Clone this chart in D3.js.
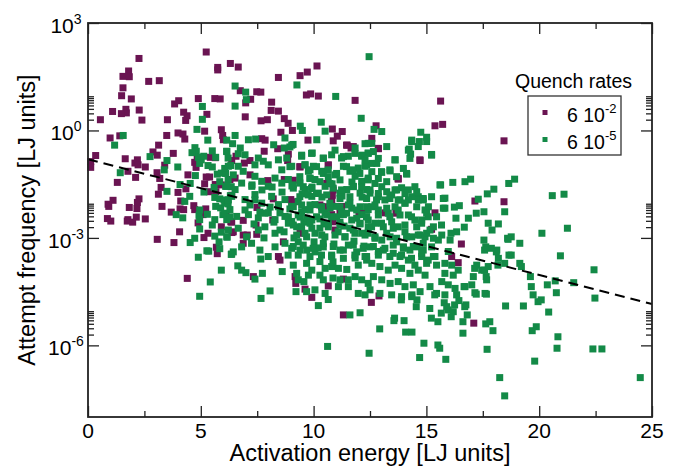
<!DOCTYPE html>
<html>
<head>
<meta charset="utf-8">
<script src="https://cdn.jsdelivr.net/npm/d3@7"></script>
<style>
body { margin: 0; background: #fff; }
svg { font-family: "Liberation Sans", Arial, Helvetica, sans-serif; }
</style>
</head>
<body>
<svg id="chart" width="678" height="466"></svg>
<script>
// each point: [activation energy, log10 of attempt frequency]
// quench rate 6 10^-2
const fastQuench = [
    [5.24,2.19],[2.26,2.01],[1.80,1.66],[1.55,1.51],[1.83,1.50],[2.69,1.37],[3.16,1.39],[5.75,1.76],[5.75,1.69],[6.31,1.87],
    [1.55,1.19],[1.49,0.97],[1.92,0.88],[4.89,0.89],[5.62,0.89],[5.86,0.88],[4.02,0.83],[3.84,0.74],[1.09,0.53],[1.68,0.59],
    [1.70,0.49],[1.48,0.47],[2.27,0.57],[5.27,0.45],[4.24,0.51],[4.39,0.41],[4.33,0.28],[0.55,0.30],[2.39,0.29],[3.52,0.30],
    [5.17,-0.02],[5.91,0.02],[3.99,-0.07],[4.21,-0.10],[4.29,-0.24],[3.49,-0.14],[0.98,-0.21],[1.41,-0.15],[5.97,-0.14],[6.00,-0.26],
    [3.13,-0.41],[2.88,-0.60],[3.07,-0.69],[3.78,-0.64],[0.34,-0.70],[1.65,-0.79],[2.19,-0.82],[2.08,-0.91],[2.22,-0.96],[0.12,-0.87],
    [0.12,-1.03],[4.84,-0.78],[4.73,-0.89],[4.79,-1.03],[5.64,-0.76],[5.42,-0.75],[2.54,-1.02],[1.77,-1.14],[2.11,-1.31],[3.06,-1.18],
    [4.43,-1.24],[5.24,-1.30],[5.39,-1.30],[1.30,-1.45],[3.24,-1.59],[4.34,-1.63],[3.99,-1.73],[3.12,-1.78],[1.11,-1.95],[0.89,-2.06],
    [0.92,-2.12],[2.26,-1.91],[2.19,-2.01],[1.83,-2.15],[2.17,-2.18],[3.28,-2.12],[3.69,-2.28],[4.08,-2.19],[4.24,-2.21],[4.69,-2.10],
    [4.73,-2.21],[5.22,-2.19],[5.10,-2.35],[0.86,-2.46],[1.77,-2.49],[2.14,-2.42],[2.54,-2.47],[6.12,-2.32],[1.01,-2.53],[1.74,-2.53],
    [1.98,-2.56],[3.40,-0.97],[3.18,-1.34],[5.17,-1.49],[5.64,-1.51],[5.67,-1.71],[5.38,-1.71],[5.91,-1.52],[4.11,-1.97],[4.88,-2.58],
    [5.14,-2.99],[5.32,-2.87],[5.69,-3.26],[5.73,-3.44],[5.91,-2.69],[6.38,-2.85],[6.33,-2.55],[4.06,-2.83],[3.07,-3.04],[3.81,-3.13],
    [4.40,-4.13],[6.66,1.77],[8.44,1.48],[9.40,1.53],[9.72,1.63],[10.15,1.80],[6.75,1.11],[7.48,1.08],[7.66,1.07],[7.21,0.87],
    [6.99,0.77],[9.68,0.99],[9.87,1.02],[10.21,0.96],[11.84,0.84],[8.14,0.79],[8.12,0.56],[8.44,0.54],[6.97,0.38],[7.67,0.27],
    [7.95,0.30],[8.70,0.33],[8.87,0.20],[8.55,-0.05],[9.06,0.00],[10.83,0.04],[11.27,-0.03],[10.87,-0.29],[11.05,-0.16],[9.75,-0.27],
    [7.70,-0.23],[7.85,-0.27],[8.41,-0.51],[7.81,-0.58],[11.49,-0.41],[11.66,-0.49],[6.56,-0.72],[8.88,-0.66],[8.85,-0.84],[7.18,-0.84],
    [6.93,-0.91],[6.37,-0.84],[9.40,-1.02],[10.65,-0.97],[6.52,-1.33],[6.29,-1.37],[7.18,-1.24],[7.97,-1.40],[8.70,-1.37],[9.10,-1.39],
    [10.83,-1.81],[8.99,-1.93],[8.21,-1.91],[6.37,-1.81],[10.36,-2.12],[10.80,-2.35],[11.24,-2.12],[7.49,-2.15],[6.88,-2.51],[12.01,-2.28],
    [6.37,-2.56],[6.44,-2.83],[6.88,-2.92],[7.06,-2.92],[7.45,-2.64],[7.48,-2.90],[8.19,-2.50],[8.66,-3.11],[8.44,-3.52],[8.51,-3.62],
    [6.88,-3.15],[7.33,-4.08],[9.18,-4.08],[9.21,-4.27],[9.62,-4.43],[9.92,-4.66],[10.65,-4.34],[11.32,-4.15],[11.32,-5.15],[10.80,-1.94],
    [10.65,-2.13],[10.95,-2.78],[11.17,-2.31],[12.13,-2.31],[9.03,-2.08],[9.40,-2.87],[15.63,0.82],[12.77,0.13],[15.38,0.13],[15.72,0.17],
    [12.58,-0.22],[12.87,-0.51],[14.72,-0.84],[18.44,-0.29],[13.75,-1.36],[17.15,-1.97],[18.44,-1.99],[13.65,-2.31],[15.38,-2.30],[15.23,-2.76],
    [16.55,-3.17],[16.12,-3.52],[16.41,-3.69],[12.90,-4.62],[13.17,-2.30],[12.56,-4.80],[17.10,-5.38],
    [9.39,-1.01],[10.65,-0.96],[11.46,-0.41],[11.76,-0.45],[12.87,-0.50],[13.75,-1.34],[14.71,-0.82],[10.87,-1.66],[10.80,-1.99],[10.28,-2.08],
    [11.24,-2.17],[12.05,-2.31],[13.68,-2.27],[9.17,-1.99],[10.58,-1.48],[10.87,-2.55]
];
// quench rate 6 10^-5
const slowQuench = [
    [5.07,0.67],[5.07,0.31],[4.83,0.03],[5.31,-0.27],[1.56,-0.14],[1.18,-0.41],[2.75,-0.73],[3.50,-0.84],[3.38,-1.10],[1.43,-1.18],
    [3.98,-1.02],[4.74,-0.48],[4.80,-0.58],[4.89,-0.75],[5.02,-0.82],[5.13,-0.72],[5.51,-0.57],[5.32,-0.98],[5.51,-1.02],[5.73,-1.22],
    [5.91,-1.19],[6.10,-1.20],[6.33,-0.98],[6.21,-0.77],[6.15,-0.59],[4.76,-1.26],[4.08,-1.51],[3.50,-1.70],[4.51,-1.84],[4.29,-1.98],
    [5.14,-1.72],[5.59,-1.59],[6.10,-1.56],[5.62,-1.87],[5.84,-1.91],[5.66,-2.12],[5.88,-2.16],[6.06,-2.03],[6.31,-1.82],[3.91,-2.35],
    [4.20,-2.44],[4.92,-2.37],[4.95,-2.49],[5.62,-2.49],[5.98,-2.35],[6.15,-2.49],
    [4.61,-0.62],[4.95,-0.92],[5.66,-0.75],[4.53,-1.48],[6.06,-1.06],[6.21,-1.38],[6.35,-1.57],[5.84,-1.43],[6.03,-1.94],[6.21,-2.05],
    [6.06,-2.31],[6.28,-2.41],[4.95,-2.22],[5.29,-2.34],[5.51,-2.64],[4.95,-2.75],[5.62,-2.95],[5.91,-2.84],[5.81,-3.11],[5.84,-3.30],
    [6.17,-2.98],[4.73,-3.01],[4.53,-3.13],[5.27,-3.36],[5.35,-3.37],[4.89,-3.54],[6.35,-3.46],[5.91,-3.90],[5.42,-4.23],[4.95,-4.63],
    [10.86,-4.12],
    [12.46,2.06],[9.26,1.27],[6.52,1.24],[6.99,1.07],[7.02,0.86],[6.52,0.68],[10.98,0.95],[12.11,0.34],[10.34,0.23],[9.41,0.12],
    [9.50,0.00],[10.51,-0.02],[8.73,-0.21],[8.95,-0.46],[8.70,-0.49],[9.09,-0.39],[6.52,-0.14],[6.15,-0.27],[6.41,-0.37],[7.11,-0.26],
    [7.43,-0.24],[6.75,-0.49],[10.14,-0.26],[8.23,-0.40],[12.28,-0.37],[11.84,-0.49],[12.42,-0.63],[12.13,-0.72],[6.15,-0.58],[6.66,-0.65],
    [6.96,-0.68],[9.47,-0.72],[9.94,-0.63],[10.43,-0.77],[10.80,-0.68],[11.24,-0.77],[11.54,-0.72],[7.55,-0.77],[7.77,-0.86],[7.40,-0.96],
    [7.99,-0.96],[8.44,-0.82],[8.81,-0.77],[9.03,-1.00],[8.59,-1.10],[6.22,-1.00],[6.66,-1.00],[6.88,-1.14],[6.44,-1.24],[9.62,-0.96],
    [9.99,-1.00],[9.77,-1.14],[9.84,-1.33],[10.06,-1.37],[10.36,-1.14],[10.65,-1.10],[10.95,-1.24],[11.32,-1.00],[11.61,-1.14],[11.98,-1.05],
    [12.28,-1.00],[11.84,-1.28],[12.13,-1.42],[12.42,-1.33],[7.40,-1.28],[7.70,-1.42],[7.26,-1.56],[7.99,-1.56],[8.29,-1.33],[8.59,-1.47],
    [8.88,-1.37],[9.10,-1.61],[9.40,-1.47],[6.15,-1.56],[6.52,-1.65],[6.81,-1.47],[6.37,-1.84],[9.62,-1.65],[9.92,-1.84],[10.21,-1.75],
    [10.51,-1.56],[10.87,-1.61],[11.17,-1.75],[11.47,-1.65],[11.76,-1.56],[12.06,-1.75],[12.35,-1.65],[6.96,-1.93],[7.40,-1.79],[7.70,-2.03],
    [8.14,-1.84],[8.44,-2.07],[8.73,-1.93],[9.03,-2.12],[9.32,-1.98],[9.62,-2.21],[10.06,-2.07],[10.51,-2.30],[10.95,-2.12],[11.32,-2.35],
    [11.69,-2.17],[12.13,-2.35],[12.42,-2.21],[6.29,-2.21],[6.59,-2.40],[7.11,-2.35],[7.55,-2.44],[7.99,-2.30],[8.29,-2.49],[8.73,-2.40],
    [9.03,-2.54],
    [6.22,-2.78],[6.66,-2.73],[7.03,-2.97],[7.55,-2.78],[7.84,-2.69],[8.29,-2.87],[8.51,-2.78],[8.88,-2.59],[9.25,-2.69],[9.62,-2.87],
    [9.92,-2.73],[10.36,-2.92],[10.65,-2.69],[11.09,-2.83],[11.39,-2.97],[11.76,-2.78],[12.13,-2.87],[12.42,-2.69],[6.15,-2.97],[6.44,-3.39],
    [6.81,-3.25],[7.25,-3.15],[7.62,-3.34],[7.99,-3.52],[8.73,-3.15],[9.03,-3.29],[9.32,-3.11],[9.70,-3.34],[10.06,-3.39],[10.43,-3.25],
    [10.80,-3.48],[11.17,-3.34],[11.54,-3.20],[11.91,-3.39],[12.28,-3.52],[7.66,-3.59],[6.37,-3.45],[6.64,-3.78],[6.81,-3.90],[7.00,-3.97],
    [7.40,-4.15],[7.73,-3.99],[8.61,-3.94],[9.10,-3.76],[9.25,-3.99],[9.32,-4.17],[9.57,-4.22],[9.69,-3.71],[9.92,-3.90],[9.77,-4.04],
    [10.28,-3.66],[10.28,-4.04],[10.51,-3.85],[10.80,-3.80],[10.43,-4.17],[11.10,-3.85],[11.47,-3.88],[11.17,-4.17],[11.54,-4.17],[11.10,-4.36],
    [11.54,-4.36],[11.98,-3.76],[12.35,-3.62],[11.84,-4.08],[12.13,-4.17],[11.98,-4.55],[12.28,-4.59],[12.42,-4.27],[8.07,-4.48],[7.67,-4.69],
    [9.22,-4.50],[9.69,-4.50],[10.06,-4.45],[10.21,-4.89],[10.51,-4.55],[10.65,-4.72],[11.61,-5.15],[12.06,-5.09],[10.62,-6.03],[12.46,-6.22],
    [6.22,-1.94],[6.96,-2.22],[7.40,-1.94],[7.84,-2.31],[8.44,-2.13],[8.88,-2.41],[9.47,-2.27],[9.92,-2.50],[10.36,-2.22],[10.80,-2.41],
    [11.24,-2.27],[11.69,-2.50],[12.06,-2.13],[12.35,-2.41],
    [7.27,-1.52],[7.71,-1.66],[8.16,-1.58],[8.60,-1.72],[9.04,-1.55],[9.49,-1.77],[9.93,-1.58],[10.37,-1.86],[10.82,-1.49],[11.26,-1.83],
    [11.70,-1.44],[12.15,-1.86],[7.18,-2.08],[7.62,-2.28],[8.07,-2.14],[8.51,-2.30],[8.95,-2.19],[9.40,-2.42],[9.84,-2.08],[10.28,-2.47],
    [10.73,-2.16],[11.17,-2.56],[11.61,-2.03],[12.06,-2.61],[7.36,-2.61],[7.80,-3.00],[8.24,-2.56],[8.69,-2.83],[9.13,-3.00],[9.57,-2.56],
    [10.02,-3.11],[10.46,-2.61],[10.90,-3.17],[11.35,-2.67],[11.79,-3.09],[12.23,-3.23],[9.40,-3.34],[10.20,-3.28],[10.86,-3.67],[11.84,-3.56],
    [8.87,-3.48],[8.29,-3.25],
    [12.68,0.03],[13.02,-0.03],[12.58,-0.36],[14.75,-0.05],[15.01,-0.19],[14.69,-0.31],[14.35,-0.27],[14.24,-0.52],[14.30,-0.66],[15.23,-0.67],
    [12.42,-0.64],[12.35,-0.96],[12.80,-0.92],[12.58,-1.15],[13.02,-1.17],[13.39,-1.13],[13.61,-0.82],[13.98,-1.06],[14.13,-1.22],[13.24,-1.43],
    [13.61,-1.66],[13.90,-1.60],[14.20,-1.66],[14.49,-1.57],[14.64,-1.85],[14.86,-1.94],[15.23,-1.85],[15.09,-2.13],[15.63,-1.52],[16.17,-1.45],
    [16.71,-1.43],[16.96,-1.36],[15.82,-1.89],[16.24,-2.14],[15.82,-2.17],[16.46,-2.10],[16.86,-2.45],[17.30,-1.92],[17.55,-2.27],[17.70,-1.77],
    [17.99,-1.64],[16.31,-2.45],[16.68,-2.70],[16.34,-2.83],[16.09,-2.87],[17.74,-2.59],[18.19,-2.61],[17.55,-3.06],[17.63,-3.25],[18.12,-3.34],
    [18.19,-3.57],[18.66,-3.48],[18.60,-3.01],[17.23,-3.76],[17.45,-3.90],[17.74,-3.80],[17.08,-4.08],[17.67,-4.17],[17.01,-4.31],[17.60,-4.55],
    [16.67,-4.36],[17.15,-4.53],[15.31,-2.69],[15.68,-2.92],[16.05,-3.06],[15.53,-3.06],[14.94,-2.97],[15.23,-3.25],[15.97,-3.38],[15.38,-3.52],
    [15.01,-3.71],[15.45,-3.76],[15.82,-3.71],[16.12,-3.76],[16.41,-3.90],[15.82,-3.99],[16.19,-4.04],[15.68,-4.22],[15.97,-4.31],[16.27,-4.41],
    [15.45,-4.55],[15.82,-4.59],
    [12.42,-1.38],[12.72,-1.48],[13.02,-1.57],[12.50,-1.75],[12.87,-1.85],[13.16,-1.94],[13.46,-1.80],[13.75,-1.94],[14.05,-2.03],[14.35,-1.85],
    [14.64,-1.94],[14.94,-2.22],[12.58,-2.13],[12.87,-2.22],[13.31,-2.31],[13.75,-2.22],[14.20,-2.36],[14.49,-2.50],[14.79,-2.59],[15.08,-2.41],
    [12.42,-2.50],[12.72,-2.59],[13.09,-2.69],[13.46,-2.55],[13.75,-2.69],[14.05,-2.83],[14.35,-2.97],[14.72,-2.92],[15.01,-2.87],[12.42,-2.87],
    [12.72,-2.97],[13.02,-3.06],[13.39,-2.97],[13.68,-3.11],[13.98,-3.25],[14.27,-3.34],[14.57,-3.25],[14.86,-3.34],[12.50,-3.25],[12.87,-3.38],
    [13.16,-3.29],[13.53,-3.43],[13.83,-3.52],[14.20,-3.62],[14.49,-3.76],[14.79,-3.52],[15.08,-3.62],[12.58,-3.71],[12.94,-3.80],[13.31,-3.90],
    [13.61,-3.76],[13.90,-3.85],[14.27,-3.99],[14.64,-3.90],[14.94,-4.04],[12.65,-4.08],[13.02,-4.17],[13.39,-4.27],[13.75,-4.22],[14.05,-4.36],
    [14.42,-4.31],[14.72,-4.50],[15.16,-4.36],[12.50,-4.45],[12.94,-4.55],[13.46,-4.59],[13.90,-4.64],[14.35,-4.64],
    [18.65,-1.48],[18.91,-1.36],[20.58,-1.82],[21.10,-1.78],[17.21,-2.31],[18.47,-2.27],[17.91,-2.78],[20.12,-2.87],[21.25,-2.73],[18.76,-2.97],
    [19.14,-3.15],[18.62,-3.04],[17.58,-3.34],[17.88,-3.29],[18.10,-3.39],[18.76,-3.48],[18.47,-3.71],[19.14,-3.71],[19.21,-3.80],[20.94,-3.50],
    [19.61,-4.08],[19.65,-4.36],[19.73,-4.59],[19.95,-4.78],[20.09,-4.73],[20.36,-4.31],[20.76,-4.53],[20.71,-4.20],[21.53,-4.25],[22.43,-3.89],
    [22.47,-4.68],[18.51,-4.90],[19.30,-4.90],[20.42,-5.07],[19.69,-5.59],[19.87,-5.48],[20.83,-5.76],[20.79,-6.08],[19.80,-6.44],[22.38,-6.10],
    [22.78,-6.10],[18.25,-6.90],[18.47,-7.41],[24.48,-6.90],[17.69,-6.11],[17.95,-5.59],[17.81,-5.34],[17.63,-5.40],[17.66,-4.57],[16.62,-5.66],
    [16.62,-5.34],[16.81,-5.15],[16.70,-4.92],[16.25,-4.87],[15.96,-5.01],[16.10,-5.20],[15.66,-5.10],[15.51,-5.34],[15.22,-5.24],[15.51,-5.99],
    [15.59,-6.08],[14.89,-5.94],[15.86,-6.39],[14.70,-6.34],[14.36,-5.63],[14.08,-5.63],[14.01,-5.31],[13.59,-5.24],[13.56,-5.31],[12.93,-5.54],
    [14.55,-4.92],[14.58,-4.73],[13.89,-4.73],[14.36,-4.59],[15.15,-4.97],[15.37,-4.59],[15.79,-4.81],[15.90,-4.92],[16.19,-5.06],[16.75,-4.87],
    [16.44,-4.75],[16.34,-4.59],[16.71,-4.36],[17.21,-4.57],[17.65,-4.08],[17.14,-3.85],[17.58,-3.90],[18.17,-3.76],
    [9.03,-0.41],[9.47,-0.69],[9.91,-0.64],[10.43,-0.78],[10.95,-0.55],[11.32,-0.73],[11.83,-0.64],[12.13,-0.69],[12.42,-0.36],[12.28,-0.82],
    [12.65,-0.59],[12.87,-0.78],[13.24,-0.45],[13.61,-0.82],[14.35,-0.31],[14.20,-0.55],[14.27,-0.78],[14.64,-0.45],[15.01,-0.31],[15.23,-0.69],
    [8.95,-1.01],[9.62,-0.96],[9.84,-1.10],[10.13,-1.01],[10.43,-1.20],[10.65,-1.29],[11.02,-1.20],[11.46,-1.01],[11.76,-1.10],[12.05,-1.20],
    [12.57,-0.92],[13.01,-1.15],[13.38,-1.10],[13.68,-1.29],[14.12,-1.20],[12.87,-1.34],[11.17,-1.38],[9.39,-1.29],[9.84,-1.34],[10.28,-1.43],
    [9.10,-1.52],[9.54,-1.57],[9.91,-1.62],[10.72,-1.48],[11.24,-1.66],[11.76,-1.57],[12.13,-1.57],[12.50,-1.66],[12.87,-1.76],[13.24,-1.71],
    [13.68,-1.66],[14.05,-1.76],[14.57,-1.71],[14.86,-1.90],[15.60,-1.52],[15.75,-1.90],[9.39,-1.85],[9.76,-1.80],[10.13,-1.76],[10.58,-1.80],
    [11.17,-1.90],[11.61,-1.85],[12.35,-1.90],[12.79,-1.94],[13.38,-1.90],[13.83,-1.94],[14.20,-1.94],
    [9.10,-2.13],[9.47,-2.08],[9.84,-2.22],[10.35,-2.13],[10.72,-2.03],[11.17,-2.13],[11.54,-2.08],[11.91,-2.22],[12.35,-2.13],[12.72,-2.08],
    [13.24,-2.17],[13.61,-2.13],[14.05,-2.03],[14.57,-2.13],[15.01,-2.31],[15.45,-2.41],[15.75,-2.17],[9.32,-2.36],[9.69,-2.45],[10.13,-2.41],
    [10.58,-2.36],[11.02,-2.41],[11.46,-2.31],[11.91,-2.45],[12.35,-2.41],[12.87,-2.36],[13.38,-2.41],[13.83,-2.36],[14.34,-2.41],[14.79,-2.50],
    [9.10,-2.64],[9.47,-2.69],[9.84,-2.59],[10.28,-2.73],[10.65,-2.59],[11.17,-2.64],[11.61,-2.73],[12.05,-2.59],[12.57,-2.69],[13.01,-2.59],
    [13.53,-2.73],[14.05,-2.64],[14.57,-2.69],[15.16,-2.78],[15.67,-2.64],[9.25,-2.92],[9.69,-2.97],[10.06,-2.87],[10.50,-2.97],[10.95,-2.92],
    [11.39,-2.97],[11.83,-2.87],[12.28,-2.92],[12.72,-3.01],[13.24,-2.87],[13.68,-3.01],[14.12,-2.97],[14.64,-2.92],[15.31,-3.01],
    [9.10,-3.24],[9.54,-3.20],[9.98,-3.29],[10.43,-3.15],[10.87,-3.24],[11.32,-3.34],[11.76,-3.20],[12.20,-3.29],[12.65,-3.24],[13.09,-3.34],
    [13.53,-3.20],[13.98,-3.29],[14.42,-3.24],[14.86,-3.15],[9.32,-3.48],[9.84,-3.52],[10.35,-3.48],[10.80,-3.52],[11.32,-3.57],[11.83,-3.48],
    [12.35,-3.52],[12.87,-3.48],[13.38,-3.52],[13.90,-3.48],[14.34,-3.57],[14.79,-3.43],[15.31,-3.52]
];
// dashed Arrhenius-like fit line, end points
const fitEnergy = [0, 25];
const fitFreq = [0.157, 1.43e-5];

const xTicks = [0, 5, 10, 15, 20, 25];
const xMinorTicks = [2.5, 7.5, 12.5, 17.5, 22.5];
const yTickExps = [-6, -3, 0, 3];
const legendBase = ["6 10", "6 10"];
const legendExp = ["-2", "-5"];

const purple = "#6a1452";
const green = "#138a47";
const axisColor = "#222";

const svg = d3.select("#chart");
const x = d3.scaleLinear().domain([0, 25]).range([88, 652]);
const y = d3.scaleLog().domain([1e-8, 1e3]).range([417, 23]);

// minor log ticks sit in the decade above each labelled tick
const yMinorTicks = yTickExps.filter(e => e < 3)
    .flatMap(e => d3.range(2, 10).map(k => k * Math.pow(10, e)));

// points, slow quench drawn on top
drawSquares(fastQuench, purple);
drawSquares(slowQuench, green);

function drawSquares(data, color) {
    svg.append("g")
        .selectAll("rect")
        .data(data)
        .join("rect")
        .attr("x", d => x(d[0]) - 3.5)
        .attr("y", d => y(Math.pow(10, d[1])) - 3.5)
        .attr("width", 7)
        .attr("height", 7)
        .attr("fill", color);
}

// fit line
let fitLine = d3.line()
    .x(d => x(d[0]))
    .y(d => y(d[1]));
svg.append("path")
    .datum(d3.zip(fitEnergy, fitFreq))
    .attr("d", fitLine)
    .attr("fill", "none")
    .attr("stroke", "#000")
    .attr("stroke-width", 2)
    .attr("stroke-dasharray", "10,6");

// ticks on all four sides, pointing inward
function drawTicks(axis, scale, values, size, transform) {
    svg.append("g")
        .attr("transform", transform)
        .call(axis(scale).tickValues(values).tickSize(size).tickFormat(""))
        .call(g => g.select(".domain").remove())
        .call(g => g.selectAll("line").attr("stroke", axisColor).attr("stroke-width", 1.3));
}
drawTicks(d3.axisBottom, x, xTicks, -11, "translate(0,417)");
drawTicks(d3.axisBottom, x, xMinorTicks, -6, "translate(0,417)");
drawTicks(d3.axisTop, x, xTicks, -11, "translate(0,23)");
drawTicks(d3.axisTop, x, xMinorTicks, -6, "translate(0,23)");
let yMajor = yTickExps.map(e => Math.pow(10, e));
drawTicks(d3.axisLeft, y, yMajor, -11, "translate(88,0)");
drawTicks(d3.axisLeft, y, yMinorTicks, -6, "translate(88,0)");
drawTicks(d3.axisRight, y, yMajor, -11, "translate(652,0)");
drawTicks(d3.axisRight, y, yMinorTicks, -6, "translate(652,0)");

// frame
svg.append("rect")
    .attr("x", 88).attr("y", 23)
    .attr("width", 564).attr("height", 394)
    .attr("fill", "none")
    .attr("stroke", axisColor)
    .attr("stroke-width", 1.8);

// tick labels
svg.append("g")
    .selectAll("text")
    .data(xTicks)
    .join("text")
    .attr("x", d => x(d))
    .attr("y", 438)
    .attr("text-anchor", "middle")
    .attr("font-size", 21)
    .text(d => d);

let yLabels = svg.append("g")
    .selectAll("text")
    .data(yTickExps)
    .join("text")
    .attr("x", 66)
    .attr("y", d => y(Math.pow(10, d)) + 10)
    .attr("text-anchor", "middle")
    .attr("font-size", 21);
yLabels.append("tspan").text("10");
yLabels.append("tspan").attr("dy", -9).attr("font-size", 14).text(d => d);

// axis titles
svg.append("text")
    .attr("x", 370)
    .attr("y", 461)
    .attr("text-anchor", "middle")
    .attr("font-size", 23.5)
    .text("Activation energy [LJ units]");
svg.append("text")
    .attr("transform", "translate(35,220) rotate(-90)")
    .attr("text-anchor", "middle")
    .attr("font-size", 23.5)
    .text("Attempt frequency [LJ units]");

// legend
svg.append("text")
    .attr("x", 515)
    .attr("y", 88)
    .attr("font-size", 19.5)
    .text("Quench rates");
svg.append("rect")
    .attr("x", 528).attr("y", 96)
    .attr("width", 93).attr("height", 59)
    .attr("fill", "#fff")
    .attr("stroke", "#333")
    .attr("stroke-width", 1.3);
let legendColors = [purple, green];
let entries = svg.append("g")
    .selectAll("g")
    .data(legendBase)
    .join("g")
    .attr("transform", (d, i) => `translate(0,${122 + i * 27})`);
entries.append("rect")
    .attr("x", 542.5).attr("y", -12)
    .attr("width", 5).attr("height", 5)
    .attr("fill", (d, i) => legendColors[i]);
let entryText = entries.append("text")
    .attr("x", 567)
    .attr("font-size", 19.5);
entryText.append("tspan").text(d => d);
entryText.append("tspan").attr("dy", -9).attr("font-size", 13).text((d, i) => legendExp[i]);
</script>
</body>
</html>
